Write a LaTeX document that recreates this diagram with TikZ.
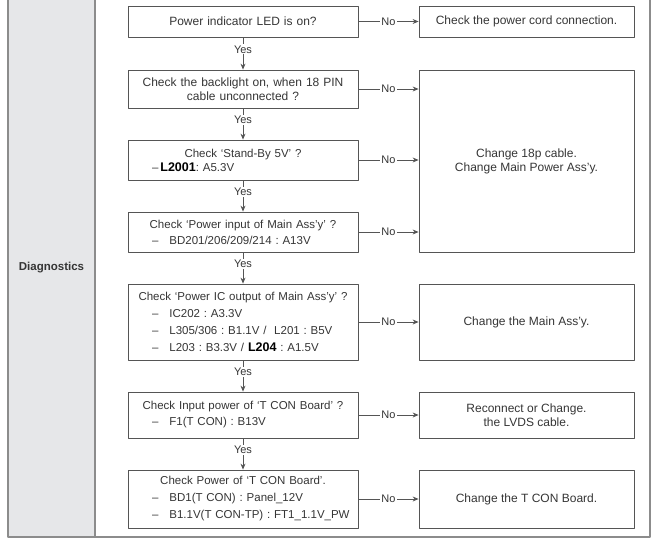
\documentclass[tikz,border=0pt]{standalone}
\usepackage{fontspec}
\setmainfont{Liberation Sans}
\usetikzlibrary{arrows.meta}
\frenchspacing
\definecolor{txt}{HTML}{353535}
\definecolor{brd}{HTML}{555555}
\definecolor{frm}{HTML}{8C8C8C}
\definecolor{pnl}{HTML}{E6E7E9}
\newcommand{\itm}[1]{\mbox{\hspace*{20pt}--\hspace{11pt}#1}}
\newcommand{\ctr}[1]{\makebox[\linewidth]{#1}}
\newcommand{\hot}[1]{{\color{black}\bfseries\fontsize{12.5}{14}\selectfont #1}}
\begin{document}
\begin{tikzpicture}[x=1pt, y=-1pt, font=\fontsize{12}{14}\selectfont, line join=round, >={Stealth[length=6pt,width=5pt]},
	chkbox/.style={draw=brd, line width=0.8pt, text=txt, minimum width=230pt, text width=222pt, inner xsep=4pt, align=left},
	fixbox/.style={draw=brd, line width=0.8pt, text=txt, minimum width=215pt, align=center},
	lbl/.style={fill=white, text=txt, inner sep=1pt, font=\fontsize{11}{13}\selectfont}]
			\useasboundingbox (0,0) rectangle (657,549);
			% frame
			\fill[pnl] (8,-5) rectangle (95,537);
			\draw[frm, line width=1.2pt] (8,-5)--(8,537)--(650,537)--(650,-5) (95,-5)--(95,537);
			\node[font=\bfseries\fontsize{11.5}{14}\selectfont, text=txt] (diag) at (51.5,268) {Diagnostics};
			% checks
			\node[chkbox, minimum height=31pt, align=center] (q1) at (243,21.5) {Power indicator LED is on?};
			\node[chkbox, minimum height=38pt, align=center] (q2) at (243,89) {Check the backlight on, when 18 PIN\\cable unconnected ?};
			\node[chkbox, minimum height=40pt, font=\fontsize{11.5}{14}\selectfont] (q3) at (243,160) {\ctr{Check ‘Stand-By 5V’ ?}\\\mbox{\hspace*{20pt}--\hspace{2pt}\hot{L2001}: A5.3V}};
			\node[chkbox, minimum height=40pt, font=\fontsize{11.5}{16}\selectfont] (q4) at (243,232) {\ctr{Check ‘Power input of Main Ass’y’ ?}\\\itm{BD201/206/209/214 : A13V}};
			\node[chkbox, minimum height=76pt, font=\fontsize{11.5}{17}\selectfont] (q5) at (243,322) {\ctr{Check ‘Power IC output of Main Ass’y’ ?}\\\itm{IC202 : A3.3V}\\\itm{L305/306 : B1.1V /\ \ L201 : B5V}\\\itm{L203 : B3.3V / \hot{L204} : A1.5V}};
			\node[chkbox, minimum height=46pt, font=\fontsize{11.5}{16}\selectfont] (q6) at (243,415) {\ctr{Check Input power of ‘T CON Board’ ?}\\\itm{F1(T CON) : B13V}};
			\node[chkbox, minimum height=58pt, font=\fontsize{11.5}{17}\selectfont] (q7) at (243,499) {\ctr{Check Power of ‘T CON Board’.}\\\itm{BD1(T CON) : Panel\_12V}\\\itm{B1.1V(T CON-TP) : FT1\_1.1V\_PW}};
			% fixes
			\node[fixbox, minimum height=31pt] (r1) at (526.5,21.5) {Check the power cord connection.};
			\node[fixbox, minimum height=182pt] (r2) at (526.5,161) {Change 18p cable.\\Change Main Power Ass’y.};
			\node[fixbox, minimum height=76pt] (r3) at (526.5,322) {Change the Main Ass’y.};
			\node[fixbox, minimum height=46pt] (r4) at (526.5,415) {Reconnect or Change.\\the LVDS cable.};
			\node[fixbox, minimum height=58pt] (r5) at (526.5,499) {Change the T CON Board.};
			% arrows
			\foreach \a/\b in {q1/q2,q2/q3,q3/q4,q4/q5,q5/q6,q6/q7}
				\draw[->, brd, line width=0.8pt] (\a) -- node[lbl, pos=0.37] {Yes} (\b);
			\foreach \a/\b in {q1/r1,q5/r3,q6/r4,q7/r5}
				\draw[->, brd, line width=0.8pt] (\a) -- node[lbl] {No} (\b);
			\foreach \a in {q2,q3,q4}
				\draw[->, brd, line width=0.8pt] (\a.east) -- node[lbl] {No} (\a.east -| r2.west);
		\end{tikzpicture}
\end{document}
